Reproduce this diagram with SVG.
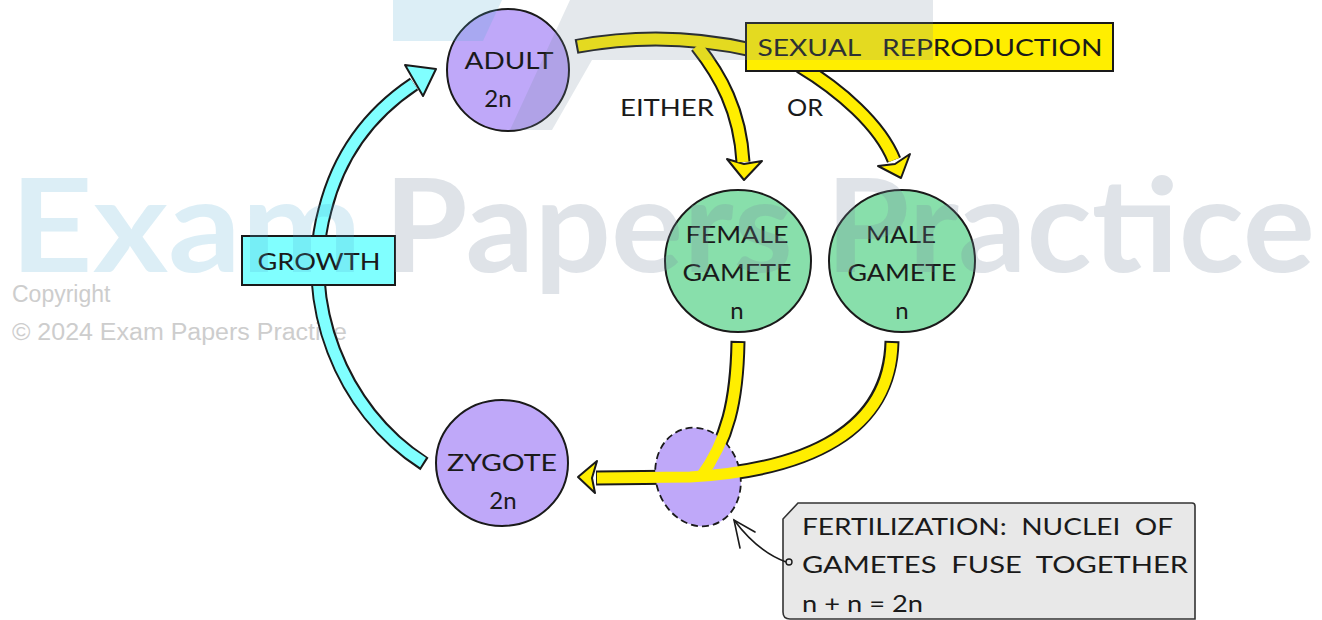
<svg xmlns="http://www.w3.org/2000/svg" width="1322" height="620" viewBox="0 0 1322 620">
<style>
.t{font-family:Lato,"Liberation Sans",sans-serif;font-size:24px;fill:#1a1a1a;text-anchor:middle}
.tl{font-family:Lato,"Liberation Sans",sans-serif;font-size:24px;fill:#1a1a1a}
.ln{stroke:#1a1a1a;stroke-width:2}
.pur{fill:#bfa8f9}
.grn{fill:#88dfab}
.out{fill:none;stroke:#1a1a1a;stroke-width:15}
.yel{fill:none;stroke:#ffee00;stroke-width:11}
.cy{fill:none;stroke:#80ffff;stroke-width:11}
.wm{font-family:Lato,"Open Sans","Liberation Sans",sans-serif;font-weight:bold;font-size:130px}
.cp{font-family:"Liberation Sans",Arial,sans-serif;font-size:23px;fill:#cdcdcd}
</style>
<rect width="1322" height="620" fill="#ffffff"/>

<g id="copyright">
<text class="cp" x="12" y="302">Copyright</text>
<text class="cp" x="12" y="340" textLength="335" lengthAdjust="spacingAndGlyphs">© 2024 Exam Papers Practice</text>
</g>

<g id="connectors">
<path class="out" d="M 576 46.5 Q 665 30 752 50"/>
<path class="out" d="M 697 46 C 720 75 740 110 743 162"/>
<path class="out" d="M 800 66 C 840 90 880 125 894 160"/>
<path class="out" d="M 424.5 464 C 340 410 300 300 325 210 C 340 150 375 110 414 84"/>
<path class="out" d="M 738 341 C 737 400 728 440 700 478"/>
<path class="out" d="M 892 341 C 890 430 810 470 690 477 L 596 478"/>
<polygon points="727,159 744,164 762,161 744,180" fill="#ffee00" stroke="#1a1a1a" stroke-width="2" stroke-linejoin="round"/>
<polygon points="878,166 895,164 910,154 901,178" fill="#ffee00" stroke="#1a1a1a" stroke-width="2" stroke-linejoin="round"/>
<polygon points="597,461 578,477 595,493 592,478" fill="#ffee00" stroke="#1a1a1a" stroke-width="2" stroke-linejoin="round"/>
<polygon points="405,65 436,69 423,96 416,84" fill="#80ffff" stroke="#1a1a1a" stroke-width="2" stroke-linejoin="round"/>
<path class="yel" d="M 578 46 Q 665 30 752 50"/>
<path class="yel" d="M 697 46 C 720 75 740 110 743 162"/>
<path class="yel" d="M 800 66 C 840 90 880 125 894 160"/>
<path class="cy" d="M 423 462.5 C 340 410 300 300 325 210 C 340 150 375 110 414 84"/>
</g>

<g id="fertilization-blob">
<ellipse cx="698" cy="477" rx="42" ry="50" transform="rotate(-18 698 477)" class="pur" stroke="#1a1a1a" stroke-width="1.8" stroke-dasharray="7 4"/>
</g>

<g id="connectors-bottom">
<path class="yel" d="M 738 343 C 737 400 728 440 700 478"/>
<path class="yel" d="M 892 343 C 890 430 810 470 690 477 L 597 478"/>
</g>

<g id="adult">
<circle cx="508" cy="70" r="61" class="pur ln"/>
<text class="t" x="509" y="69" textLength="89" lengthAdjust="spacingAndGlyphs">ADULT</text>
<text class="t" x="498" y="107">2n</text>
</g>

<g id="female-gamete">
<ellipse cx="738" cy="261" rx="73" ry="71" class="grn ln"/>
<text class="t" x="737" y="243" textLength="103" lengthAdjust="spacingAndGlyphs">FEMALE</text>
<text class="t" x="737" y="281" textLength="109" lengthAdjust="spacingAndGlyphs">GAMETE</text>
<text class="t" x="737" y="319">n</text>
</g>

<g id="male-gamete">
<ellipse cx="902" cy="261" rx="73" ry="71" class="grn ln"/>
<text class="t" x="901" y="243" textLength="70" lengthAdjust="spacingAndGlyphs">MALE</text>
<text class="t" x="902" y="281" textLength="109" lengthAdjust="spacingAndGlyphs">GAMETE</text>
<text class="t" x="902" y="319">n</text>
</g>

<g id="zygote">
<ellipse cx="502" cy="463" rx="66" ry="63" class="pur ln"/>
<text class="t" x="502" y="471" textLength="110" lengthAdjust="spacingAndGlyphs">ZYGOTE</text>
<text class="t" x="503" y="509">2n</text>
</g>

<g id="sexual-reproduction">
<rect x="746" y="23" width="367" height="48" fill="#ffee00" class="ln"/>
<text class="t" x="930" y="56" xml:space="preserve" textLength="345" lengthAdjust="spacingAndGlyphs">SEXUAL   REPRODUCTION</text>
</g>

<g id="growth">
<rect x="242" y="236" width="153" height="49" fill="#80ffff" class="ln"/>
<text class="t" x="319" y="270" textLength="123" lengthAdjust="spacingAndGlyphs">GROWTH</text>
</g>

<g id="labels">
<text class="t" x="667" y="116" textLength="94" lengthAdjust="spacingAndGlyphs">EITHER</text>
<text class="t" x="805" y="116" textLength="36" lengthAdjust="spacingAndGlyphs">OR</text>
</g>

<g id="callout">
<path d="M 798 503 L 1192 503 Q 1195 503 1195 506 L 1195 619 L 790 619 Q 783 619 783 612 L 783 519 Z" fill="#e8e8e8" stroke="#333" stroke-width="1.6"/>
<path d="M 786 562 Q 758 552 734 520" fill="none" stroke="#1a1a1a" stroke-width="1.6"/>
<path d="M 755 532 L 734 520 L 740 548" fill="none" stroke="#1a1a1a" stroke-width="1.6" stroke-linecap="round"/>
<circle cx="789" cy="562" r="3" fill="#e8e8e8" stroke="#1a1a1a" stroke-width="1.4"/>
<text class="tl" x="802" y="535" xml:space="preserve" textLength="371" lengthAdjust="spacingAndGlyphs">FERTILIZATION:  NUCLEI  OF</text>
<text class="tl" x="802" y="573" xml:space="preserve" textLength="386" lengthAdjust="spacingAndGlyphs">GAMETES  FUSE  TOGETHER</text>
<text class="tl" x="802" y="612" textLength="121" lengthAdjust="spacingAndGlyphs">n + n = 2n</text>
</g>

<g id="watermark">
<polygon points="393,0 502,0 483,41 393,41" fill="#50aad2" fill-opacity="0.2"/>
<polygon points="570,0 933,0 933,60 592,60 552,130 510,130" fill="#788ca0" fill-opacity="0.2"/>
<text class="wm" x="10" y="272" fill="#50aad2" fill-opacity="0.2" textLength="352" lengthAdjust="spacingAndGlyphs">Exam</text>
<text class="wm" x="384" y="272" fill="#788ca0" fill-opacity="0.24" textLength="931" lengthAdjust="spacingAndGlyphs">Papers Practice</text>
</g>
</svg>
